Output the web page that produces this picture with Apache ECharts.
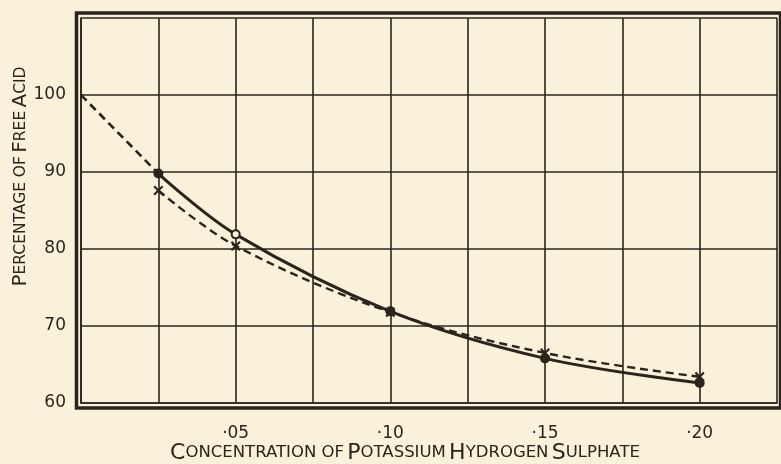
<!DOCTYPE html>
<html>
<head>
<meta charset="utf-8">
<script src="https://cdn.jsdelivr.net/npm/echarts@6/dist/echarts.min.js"></script>
<style>
  html, body { margin: 0; padding: 0; background: #f9f1d9; }
  #chart { width: 781px; height: 464px; }
</style>
</head>
<body>
<div id="chart"></div>
<script>
// Concentration of KHSO4 (x) against percentage of free acid (y)
const concentration = [0.025, 0.05, 0.10, 0.15, 0.20];
const freeAcidCircles = [89.8, 81.9, 71.9, 65.8, 62.6];   // solid curve, circle points
const freeAcidCrosses = [87.6, 80.4, 71.8, 66.5, 63.4];   // dashed curve, cross points
const extrapolation = [[0, 100], [0.025, 89.8]];          // dashed lead-in to 100 %
const hollowCircleIndex = [1];

const ink = '#2b241c';
const paper = '#f9f1d9';
const textFont = '"DejaVu Sans", Lato, sans-serif';

// heavy X marker drawn as a filled outline
const crossPath = 'path://M0,1.5L1.5,0L5,3.5L8.5,0L10,1.5L6.5,5L10,8.5L8.5,10L5,6.5L1.5,10L0,8.5L3.5,5Z';

const circleData = concentration.map((x, i) => {
  const p = { value: [x, freeAcidCircles[i]] };
  if (hollowCircleIndex.includes(i)) {
    p.symbol = 'circle';
    p.symbolSize = 8;
    p.itemStyle = { color: paper, borderColor: ink, borderWidth: 2 };
  }
  return p;
});
const crossData = concentration.map((x, i) => [x, freeAcidCrosses[i]]);

const chart = echarts.init(document.getElementById('chart'));

const capsRich = {
  B: { fontFamily: textFont, fontSize: 22, color: ink },
  s: { fontFamily: textFont, fontSize: 16.5, color: ink }
};
const capsRichY = {
  B: { fontFamily: textFont, fontSize: 20, color: ink },
  s: { fontFamily: textFont, fontSize: 15.5, color: ink }
};

chart.setOption({
  backgroundColor: paper,
  animation: false,
  grid: {
    left: 81, right: 4, top: 18, bottom: 61, show: false,
    containLabel: false, outerBoundsMode: 'none'
  },
  xAxis: {
    type: 'value',
    min: 0,
    max: 0.225,
    interval: 0.025,
    name: '{B|C}{s|ONCENTRATION OF} {B|P}{s|OTASSIUM} {B|H}{s|YDROGEN} {B|S}{s|ULPHATE}',
    nameLocation: 'middle',
    nameGap: 39,
    nameMoveOverlap: false,
    nameTextStyle: { rich: capsRich, padding: [0, 48, 0, 0] },
    axisLine: { show: true, lineStyle: { color: ink, width: 1.6 } },
    axisTick: { show: false },
    splitLine: { show: true, lineStyle: { color: ink, width: 1.6 } },
    axisLabel: {
      margin: 22,
      color: ink,
      fontFamily: textFont,
      fontSize: 17,
      formatter: v => {
        const h = Math.round(v * 1000);
        if (h === 0 || h % 50 !== 0) return '';
        return '\u00b7' + String(Math.round(v * 100)).padStart(2, '0');
      }
    }
  },
  yAxis: {
    type: 'value',
    min: 60,
    max: 110,
    interval: 10,
    name: '{B|P}{s|ERCENTAGE OF} {B|F}{s|REE} {B|A}{s|CID}',
    nameLocation: 'middle',
    nameGap: 50,
    nameMoveOverlap: false,
    nameTextStyle: { rich: capsRichY, padding: [0, 0, 0, 68] },
    axisLine: { show: true, lineStyle: { color: ink, width: 1.6 } },
    axisTick: { show: false },
    splitLine: { show: true, lineStyle: { color: ink, width: 1.6 } },
    axisLabel: {
      margin: 15,
      color: ink,
      fontFamily: textFont,
      fontSize: 17,
      formatter: v => (v > 100 ? '' : String(v))
    }
  },
  series: [
    {
      type: 'line',
      data: extrapolation,
      symbol: 'none',
      lineStyle: { color: ink, width: 2.6, type: [8, 5] },
      z: 3
    },
    {
      type: 'line',
      data: crossData,
      smooth: 0.35,
      symbol: crossPath,
      symbolSize: 10,
      itemStyle: { color: ink },
      lineStyle: { color: ink, width: 2.4, type: [8, 5] },
      z: 4
    },
    {
      type: 'line',
      data: circleData,
      smooth: 0.35,
      symbol: 'circle',
      symbolSize: 10,
      itemStyle: { color: ink },
      lineStyle: { color: ink, width: 3 },
      z: 5
    }
  ]
});

// heavy outer frame set a few pixels outside the plotting area
const tl = chart.convertToPixel({ gridIndex: 0 }, [0, 110]);
const br = chart.convertToPixel({ gridIndex: 0 }, [0.225, 60]);
chart.setOption({
  graphic: [{
    type: 'rect',
    shape: { x: tl[0] - 4.5, y: tl[1] - 5, width: br[0] - tl[0] + 8, height: br[1] - tl[1] + 10 },
    style: { fill: null, stroke: ink, lineWidth: 3.5 },
    silent: true
  }]
});
</script>
</body>
</html>
